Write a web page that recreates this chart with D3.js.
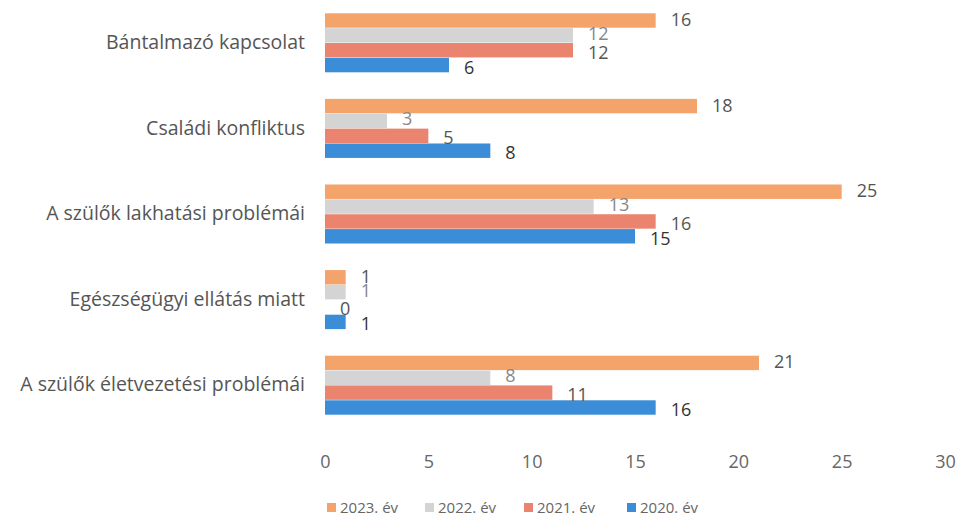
<!DOCTYPE html>
<html>
<head>
<meta charset="utf-8">
<script src="https://cdn.jsdelivr.net/npm/d3@7"></script>
<style>
  body { margin: 0; background: #fff; }
  svg { font-family: "Open Sans", "Noto Sans", sans-serif; }
</style>
</head>
<body>
<div id="chart"></div>
<script>
const WIDTH = 958;
const HEIGHT = 520;
const MARGINS = { left: 325, right: 13, top: 0, bottom: 85 };

const CATEGORIES = [
  "Bántalmazó kapcsolat",
  "Családi konfliktus",
  "A szülők lakhatási problémái",
  "Egészségügyi ellátás miatt",
  "A szülők életvezetési problémái",
];
const SERIES = ["2023. év", "2022. év", "2021. év", "2020. év"];
const VALUES_2023 = [16, 18, 25, 1, 21];
const VALUES_2022 = [12, 3, 13, 1, 8];
const VALUES_2021 = [12, 5, 16, 0, 11];
const VALUES_2020 = [6, 8, 15, 1, 16];
const X_TICKS = [0, 5, 10, 15, 20, 25, 30];

const COLORS = ["#F4A36B", "#D4D4D4", "#EA846F", "#3A8DD6"];
const LABEL_COLORS = ["#555", "#888", "#555", "#333"];
const ALL_VALUES = [VALUES_2023, VALUES_2022, VALUES_2021, VALUES_2020];

const data = CATEGORIES.map((c, i) => ({
  category: c,
  values: SERIES.map((s, j) => ({ series: s, value: ALL_VALUES[j][i], k: j })),
}));

const svg = d3.select("#chart").append("svg")
  .attr("width", WIDTH)
  .attr("height", HEIGHT);

const X_SCALE = d3.scaleLinear().domain([0, 30]).range([0, 620]);

const Y_SCALE = d3.scaleBand()
  .domain(CATEGORIES)
  .range([0, 428])
  .paddingInner(0.3)
  .paddingOuter(0.15);

const Y_SUB = d3.scaleBand()
  .domain(SERIES)
  .range([0, Y_SCALE.bandwidth()])
  .padding(0.03);

const COLOR = d3.scaleOrdinal().domain(SERIES).range(COLORS);

const plot = svg.append("g")
  .attr("transform", `translate(${MARGINS.left},${MARGINS.top})`);

const groups = plot.selectAll(".group")
  .data(data)
  .enter()
  .append("g")
  .attr("class", "group")
  .attr("transform", (d) => `translate(0,${Y_SCALE(d.category)})`);

groups.selectAll("rect")
  .data((d) => d.values)
  .enter()
  .append("rect")
  .attr("x", 0)
  .attr("y", (d) => Y_SUB(d.series))
  .attr("width", (d) => X_SCALE(d.value))
  .attr("height", Y_SUB.bandwidth())
  .attr("fill", (d) => COLOR(d.series));

// value labels (adjacent labels are nudged a bit apart, like the original)
const NUDGE = [-1, -2, 2, 2];
groups.selectAll(".val")
  .data((d) => d.values)
  .enter()
  .append("text")
  .attr("class", "val")
  .attr("x", (d) => X_SCALE(d.value) + 15)
  .attr("y", (d) => Y_SUB(d.series) + Y_SUB.bandwidth() / 2 + NUDGE[d.k])
  .attr("dy", "0.36em")
  .attr("fill", (d) => LABEL_COLORS[d.k])
  .style("font-size", "18px")
  .text((d) => d.value);

// category labels
plot.append("g")
  .call(d3.axisLeft(Y_SCALE).tickSize(0).tickPadding(20))
  .call((g) => g.select(".domain").remove())
  .selectAll("text")
  .attr("fill", "#555")
  .style("font-size", "19.5px")
  .style("font-family", "\"Open Sans\", \"Noto Sans\", sans-serif");

// x axis ticks
plot.append("g")
  .attr("transform", "translate(0,451)")
  .call(d3.axisBottom(X_SCALE).tickValues(X_TICKS).tickSize(0).tickPadding(4))
  .call((g) => g.select(".domain").remove())
  .selectAll("text")
  .attr("fill", "#666")
  .style("font-size", "18px")
  .style("font-family", "\"Open Sans\", \"Noto Sans\", sans-serif");

// legend
const LEGEND_X = [327, 425, 524, 627];
const legend = svg.append("g").attr("transform", "translate(0,508)");
const items = legend.selectAll(".item")
  .data(SERIES)
  .enter()
  .append("g")
  .attr("class", "item")
  .attr("transform", (d, i) => `translate(${LEGEND_X[i]},0)`);

items.append("rect")
  .attr("x", 0)
  .attr("y", -5)
  .attr("width", 9)
  .attr("height", 9)
  .attr("fill", (d) => COLOR(d));

items.append("text")
  .attr("x", 13)
  .attr("y", 0)
  .attr("dy", "0.36em")
  .attr("fill", "#666")
  .style("font-size", "15px")
  .text((d) => d);
</script>
</body>
</html>
